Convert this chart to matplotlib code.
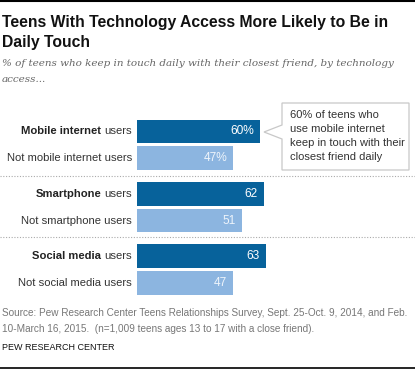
import matplotlib.pyplot as plt
import matplotlib.transforms as mtransforms
from matplotlib.lines import Line2D
from matplotlib.patches import Polygon

# data
groups = ['Mobile internet', 'Smartphone', 'Social media']
non_user_labels = ['Not mobile internet users', 'Not smartphone users',
                   'Not social media users']
user_vals = [60, 62, 63]
non_user_vals = [47, 51, 47]
user_text = ['60%', '62', '63']
non_user_text = ['47%', '51', '47']

W, H = 415, 370
DARK = '#07629b'
LIGHT = '#8cb5e0'
SANS = 'Liberation Sans'

plt.rcParams['font.family'] = SANS

fig = plt.figure(figsize=(W / 100, H / 100), dpi=100, facecolor='white')


def fx(x):
    return x / W


def fy(y):
    return 1 - y / H


# bars axes, data y in pixel rows (inverted)
ax_left, ax_right, ax_top, ax_bot = 137, 409, 100, 300
ax = fig.add_axes([fx(ax_left), fy(ax_bot), (ax_right - ax_left) / W,
                   (ax_bot - ax_top) / H])
ax.set_xlim(0, (ax_right - ax_left) / 2.05)
ax.set_ylim(ax_bot, ax_top)
ax.axis('off')

bar_h = 23.5
centers_u = [131.5 + g * 62.3 for g in range(3)]
centers_n = [c + 26.7 for c in centers_u]

ax.barh(centers_u, user_vals, height=bar_h, color=DARK)
ax.barh(centers_n, non_user_vals, height=bar_h, color=LIGHT)

for y, v, t in zip(centers_u, user_vals, user_text):
    ax.annotate(t, (v, y), xytext=(-4.5, 0), textcoords='offset points',
                ha='right', va='center', color='white', fontsize=8.6)
for y, v, t in zip(centers_n, non_user_vals, non_user_text):
    ax.annotate(t, (v, y), xytext=(-4.5, 0), textcoords='offset points',
                ha='right', va='center', color='#eef4fb', fontsize=8.6)

# category labels (bold part + regular "users")
LAB = 8.1
fig.canvas.draw()
r = fig.canvas.get_renderer()
for g, yc in enumerate(centers_u):
    t = fig.text(fx(132), fy(yc), 'users', ha='right', va='center',
                 fontsize=LAB, color='#333333')
    bb = t.get_window_extent(r)
    fig.text(bb.x0 - 3, bb.y0 + bb.height / 2, groups[g], ha='right',
             va='center', fontsize=LAB, fontweight='bold', color='#222222',
             transform=mtransforms.IdentityTransform())
for g, yc in enumerate(centers_n):
    fig.text(fx(132), fy(yc), non_user_labels[g], ha='right', va='center',
             fontsize=LAB, color='#333333')

# dotted separators
for ys in [176, 237]:
    fig.add_artist(Line2D([0, 1], [fy(ys), fy(ys)], color='#aaaaaa',
                          lw=0.8, ls=(0, (1, 1.5))))

# callout box
tip_x = 137 + user_vals[0] * 2.05 + 4
pts = [(282, 103), (409, 103), (409, 170), (282, 170), (282, 139),
       (tip_x, 132), (282, 125)]
fig.add_artist(Polygon([(fx(x), fy(y)) for x, y in pts], closed=True,
                       transform=fig.transFigure, fc='white', ec='#c8c8c8',
                       lw=0.9))
callout = ['60% of teens who', 'use mobile internet',
           'keep in touch with their', 'closest friend daily']
for i, line in enumerate(callout):
    fig.text(fx(290), fy(115 + i * 14), line, ha='left', va='center',
             fontsize=8.0, color='#333333')

# title and subtitle
fig.add_artist(Line2D([0, 1], [fy(1), fy(1)], color='black', lw=1.5))
fig.text(fx(2), fy(22), 'Teens With Technology Access More Likely to Be in',
         ha='left', va='center', fontsize=11.3, fontweight='bold',
         color='#111111')
fig.text(fx(2), fy(42), 'Daily Touch', ha='left', va='center', fontsize=11.3,
         fontweight='bold', color='#111111')
fig.text(fx(2), fy(63),
         '% of teens who keep in touch daily with their closest friend, by technology',
         ha='left', va='center', fontsize=7.45, style='italic',
         family='DejaVu Serif', color='#666666')
fig.text(fx(2), fy(80), 'access...', ha='left', va='center', fontsize=7.45,
         style='italic', family='DejaVu Serif', color='#666666')

# source
fig.text(fx(2), fy(313),
         'Source: Pew Research Center Teens Relationships Survey, Sept. 25-Oct. 9, 2014, and Feb.',
         ha='left', va='center', fontsize=7.2, color='#777777')
fig.text(fx(2), fy(329),
         '10-March 16, 2015.  (n=1,009 teens ages 13 to 17 with a close friend).',
         ha='left', va='center', fontsize=7.2, color='#777777')
fig.text(fx(2), fy(348), 'PEW RESEARCH CENTER', ha='left', va='center',
         fontsize=6.5, color='#111111')
fig.add_artist(Line2D([0, 1], [fy(368), fy(368)], color='black', lw=1.2))

fig.savefig('out.png', dpi=100, facecolor='white')
